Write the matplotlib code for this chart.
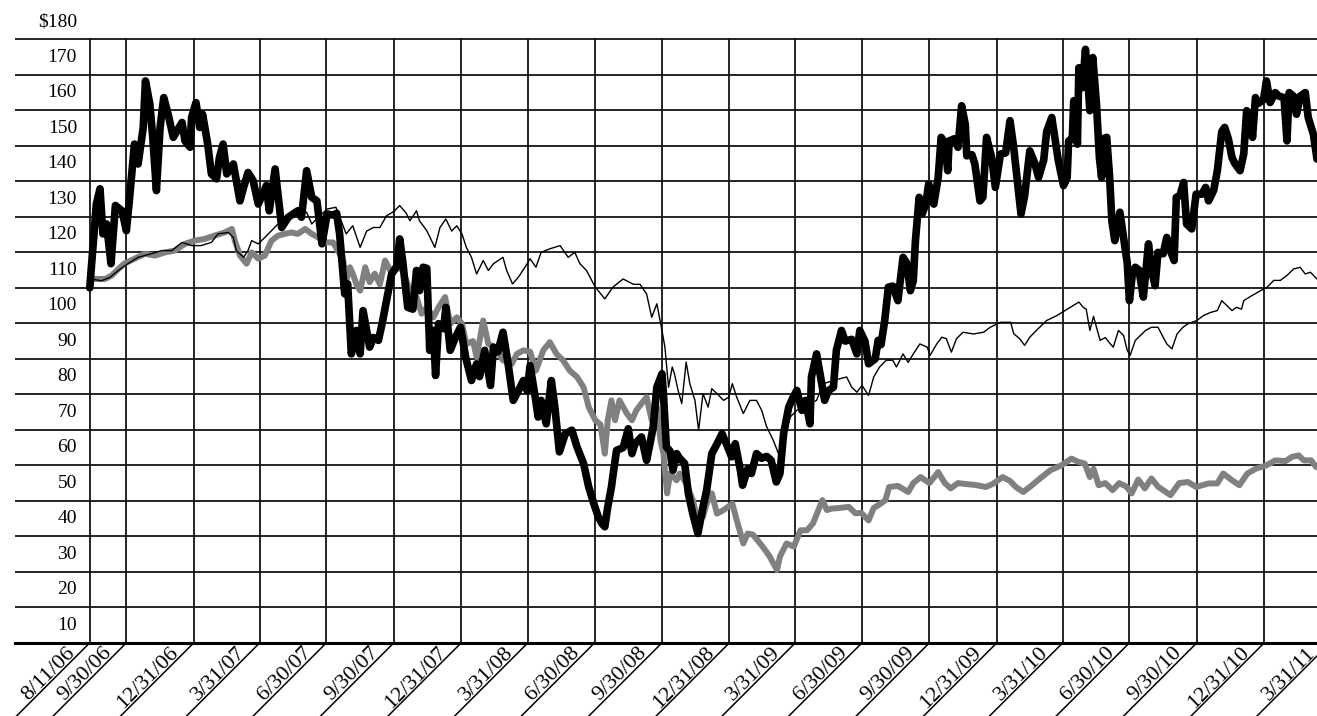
import numpy as np
import matplotlib
matplotlib.use("Agg")
import matplotlib.pyplot as plt
import matplotlib.transforms as mtransforms

plt.rcParams["font.family"] = ["Liberation Serif", "DejaVu Serif"]

START = np.datetime64("2006-08-11")
END = np.datetime64("2011-03-13")

# thick black line: days after 8/11/06, value ($100 start)
stock_day = [0, 9, 14, 18, 23, 29, 35, 44, 50, 54, 61, 66, 73, 76, 82, 86, 91, 96, 101, 107,
             114, 126, 130, 137, 139, 145, 150, 154, 161, 166, 173, 177, 182, 187, 196, 205, 210, 216, 223, 230,
             241, 245, 253, 262, 271, 284, 289, 296, 303, 310, 317, 324, 332, 337, 341, 348, 352, 357, 364, 369,
             373, 382, 387, 394, 399, 405, 412, 419, 423, 427, 434, 441, 446, 450, 455, 460, 464, 469, 472, 476,
             483, 486, 492, 499, 506, 513, 521, 528, 532, 539, 547, 551, 557, 564, 571, 578, 585, 592, 597, 601,
             608, 612, 616, 623, 630, 635, 641, 649, 658, 665, 674, 681, 688, 694, 699, 703, 707, 712, 714, 719,
             728, 735, 740, 744, 753, 760, 765, 769, 774, 781, 783, 787, 792, 796, 801, 805, 812, 817, 823, 830,
             837, 842, 849, 856, 863, 869, 876, 881, 888, 891, 898, 903, 910, 917, 924, 930, 937, 942, 947, 954,
             960, 965, 972, 977, 983, 985, 992, 1003, 1008, 1015, 1019, 1026, 1031, 1040, 1047, 1051, 1058, 1063, 1072, 1076,
             1080, 1085, 1090, 1096, 1103, 1110, 1115, 1120, 1124, 1127, 1132, 1136, 1141, 1145, 1152, 1158, 1162, 1167, 1171, 1173,
             1180, 1185, 1190, 1195, 1197, 1204, 1208, 1215, 1219, 1224, 1231, 1236, 1243, 1250, 1256, 1261, 1265, 1271, 1276, 1283,
             1290, 1295, 1302, 1306, 1313, 1322, 1329, 1334, 1336, 1341, 1343, 1348, 1350, 1355, 1359, 1363, 1365, 1369, 1374, 1378,
             1381, 1383, 1388, 1392, 1395, 1399, 1406, 1413, 1416, 1419, 1423, 1427, 1432, 1438, 1445, 1449, 1454, 1458, 1465, 1470,
             1474, 1480, 1483, 1488, 1493, 1497, 1504, 1510, 1518, 1523, 1527, 1534, 1539, 1545, 1549, 1554, 1559, 1563, 1570, 1575,
             1579, 1584, 1587, 1591, 1595, 1602, 1606, 1611, 1618, 1623, 1630, 1634, 1637, 1643, 1647, 1652, 1659, 1663, 1670, 1675]
stock_val = [100, 123.6, 127.9, 115.2, 118, 106.8, 123.2, 121.7, 116.1, 124.5, 140.5, 134.9, 145.2, 158.3, 151.8, 142.4, 127.4, 145.2, 153.6, 148.9,
             142.4, 146.6, 141.4, 139.6, 148, 152.2, 145.2, 148.9, 140.5, 132.1, 130.7, 136.7, 140.5, 132.1, 134.9, 124.5, 128.3, 132.5, 130.2, 123.6,
             128.8, 121.7, 133.5, 117, 119.9, 121.7, 119.9, 133, 125.5, 124.5, 112.4, 120.8, 120.5, 121, 115.2, 98.3, 101.1, 81.4, 88, 81.4,
             93.6, 83.3, 86, 85.2, 89.9, 96.4, 103.9, 106, 113.8, 107.7, 94.5, 94, 104.9, 99.2, 105.8, 105.5, 82.4, 88, 75.3, 89.9,
             88.5, 94.5, 82.4, 86, 88.9, 80.5, 73.9, 78.6, 75, 82.4, 72.5, 83.3, 82, 87.5, 78.6, 68.3, 71, 73.9, 71, 78.1,
             69.2, 63.6, 68.3, 61.7, 73.9, 66, 53.8, 58.9, 59.9, 55.2, 50.5, 43.9, 39.2, 35.5, 33.6, 32.7, 38.3, 43.9, 47, 54.2,
             55, 60.3, 53.3, 56, 58, 51.4, 56.5, 60.8, 72, 75.8, 70, 55.2, 54, 48.6, 53.3, 52, 50.5, 42.1, 36.4, 30.8,
             38.3, 43, 53.3, 56, 58.9, 56, 52.4, 56.1, 48.6, 44.4, 49, 47.7, 53.3, 52, 52.5, 51.4, 45.3, 47.7, 58.9, 66.4,
             69.2, 71.1, 65.5, 68.3, 61.7, 74.9, 81.4, 68.3, 71, 72, 82.4, 88, 85, 85.5, 81.4, 88, 85, 78.6, 80, 85.2,
             84, 90.8, 100.2, 100.5, 96.4, 108.6, 107, 99.2, 102, 113.5, 125.5, 120.8, 123.5, 129.3, 123.6, 131.1, 142.4, 141, 133, 141.4,
             142, 139.6, 151.3, 146, 137.2, 137.5, 134.9, 124.5, 125.5, 142.4, 136.7, 128.3, 137.7, 138, 147.1, 139.6, 132.1, 120.8, 126, 138.6,
             135, 131.1, 136, 144, 148, 135.8, 128.8, 131, 141.4, 142, 152.7, 140.5, 162, 156.4, 167.2, 156, 149.9, 164.9, 151.8, 136.7,
             131.1, 142, 142.4, 131.1, 118.9, 113.3, 121.3, 111.4, 107, 96.4, 104, 105.8, 105, 97.4, 112.4, 105, 100.6, 110, 109.6, 114.2,
             111, 107.7, 125.5, 126, 129.7, 118, 116.6, 126.4, 126.4, 128.3, 124.5, 127.5, 133, 144, 145.2, 142, 136.7, 135, 133, 137.7,
             149.9, 148, 142.4, 153.6, 152, 153, 158.3, 152.2, 155, 154, 153.6, 141.4, 155, 154, 148.9, 154, 155, 148, 143.3, 136.3]

# thin black line
market_day = [0, 2, 16, 28, 39, 52, 66, 84, 98, 112, 126, 139, 152, 166, 175, 189, 196, 200, 210, 216,
              221, 230, 239, 248, 257, 266, 275, 284, 296, 303, 312, 324, 336, 350, 359, 369, 378, 387, 396, 405,
              415, 423, 432, 437, 446, 450, 460, 471, 478, 486, 494, 501, 508, 514, 521, 528, 537, 544, 551, 564,
              569, 577, 585, 594, 601, 609, 616, 628, 642, 653, 662, 669, 678, 690, 703, 714, 728, 742, 751, 760,
              767, 774, 781, 785, 790, 795, 798, 803, 808, 814, 819, 826, 831, 837, 844, 849, 856, 865, 872, 877,
              883, 892, 901, 910, 917, 924, 933, 940, 947, 956, 965, 974, 983, 992, 1001, 1015, 1033, 1040, 1047, 1054,
              1063, 1070, 1078, 1087, 1096, 1101, 1110, 1117, 1124, 1133, 1143, 1147, 1156, 1163, 1169, 1176, 1183, 1192, 1206, 1220,
              1229, 1243, 1257, 1261, 1269, 1276, 1283, 1292, 1306, 1320, 1338, 1350, 1356, 1360, 1365, 1370, 1374, 1379, 1386, 1393,
              1397, 1404, 1411, 1416, 1420, 1427, 1434, 1441, 1449, 1458, 1465, 1470, 1477, 1484, 1492, 1499, 1511, 1520, 1530, 1539,
              1545, 1552, 1559, 1565, 1572, 1575, 1586, 1598, 1607, 1616, 1625, 1634, 1643, 1652, 1659, 1666, 1675]
market_val = [100, 102.5, 102, 103, 104.9, 106.8, 108.6, 109.6, 110.5, 110.5, 112.8, 111.9, 111.9, 112.8, 115.2, 115.6, 114.2, 110.5, 108.6, 110.5,
              113.3, 112.4, 114.2, 116.1, 118, 119, 119.9, 120.8, 121.3, 118, 119.9, 122.2, 122.7, 115.2, 117.5, 111.4, 116, 117, 117, 120.3,
              121.5, 123.2, 121, 118.9, 121.7, 118.9, 116.1, 111.4, 117, 119.4, 116, 117.5, 115.2, 111.4, 108.6, 103.9, 107.7, 104.9, 106.8, 108.6,
              104.9, 101.1, 103, 105.8, 108.2, 105.8, 110, 111, 111.9, 108.6, 110, 106.8, 104.9, 100.2, 96.9, 100.2, 102.5, 101, 101, 98.3,
              91.7, 95.5, 88, 83.3, 72, 77.7, 75.8, 71.1, 67.4, 79.1, 73, 68.3, 59.9, 70.2, 66.4, 71.6, 70.2, 68.3, 69.2, 73,
              69.2, 64.6, 68.3, 68.3, 65.5, 60.8, 57, 53.3, 57, 63.6, 65.5, 66.4, 67.4, 68.3, 73, 73.9, 74.9, 72, 70.6, 72.5,
              69.7, 74.9, 77.7, 79.6, 79.6, 77.7, 81.4, 79, 81.4, 84.2, 83.3, 81, 84.2, 86.1, 85.7, 81.9, 85.7, 87.5, 87, 87.5,
              88.9, 90.3, 90.3, 87.1, 85.7, 83.8, 86.1, 88, 90.8, 92.2, 94.5, 96, 94.5, 94, 88, 92, 88.9, 85.2, 86, 84.2,
              83.3, 88, 86.6, 82.4, 81, 85.2, 86.6, 88, 88.9, 88.9, 86.1, 84.2, 82.8, 87, 88.9, 89.9, 90.8, 92.2, 93.1, 93.6,
              96.4, 95, 93.6, 94.5, 94, 96.4, 97.8, 99.2, 100.2, 102.1, 102.1, 103.5, 105.3, 105.8, 103.9, 104.4, 102.5]

# thick gray line
peer_day = [0, 2, 21, 30, 39, 47, 61, 75, 89, 103, 116, 130, 143, 157, 170, 184, 194, 198, 205, 214,
            221, 230, 239, 248, 257, 266, 275, 284, 294, 303, 312, 321, 332, 336, 346, 350, 355, 359, 364, 369,
            376, 382, 389, 396, 403, 410, 419, 427, 437, 446, 453, 460, 469, 476, 485, 492, 501, 508, 514, 523,
            528, 537, 544, 553, 564, 576, 583, 592, 601, 609, 619, 628, 637, 646, 655, 665, 674, 681, 690, 697,
            703, 707, 712, 717, 723, 733, 740, 746, 753, 760, 767, 774, 779, 783, 788, 792, 801, 805, 814, 823,
            830, 837, 842, 849, 856, 865, 877, 883, 892, 898, 905, 915, 922, 928, 938, 942, 951, 961, 970, 979,
            987, 1000, 1006, 1012, 1024, 1036, 1045, 1053, 1063, 1070, 1078, 1086, 1091, 1103, 1117, 1124, 1134, 1146, 1158, 1167,
            1175, 1185, 1197, 1208, 1223, 1232, 1246, 1256, 1264, 1274, 1283, 1297, 1311, 1326, 1340, 1349, 1358, 1365, 1370, 1377,
            1386, 1396, 1405, 1415, 1422, 1431, 1440, 1449, 1458, 1475, 1487, 1499, 1510, 1527, 1539, 1547, 1559, 1569, 1580, 1592,
            1606, 1618, 1632, 1641, 1650, 1657, 1667, 1674]
peer_val = [100, 102.5, 102.5, 103.5, 105.3, 106.8, 108.2, 109.6, 109.1, 110, 110.5, 112.4, 113.3, 113.8, 114.7, 115.6, 116.6, 113.3, 109.1, 106.8,
            110, 108.2, 109.1, 113.3, 114.7, 115.2, 115.6, 115.2, 116.6, 115.2, 114.2, 112.8, 112.8, 111.4, 107.7, 102, 105.8, 104, 101, 99.2,
            105.8, 101.6, 104, 101, 107.7, 104.9, 106, 104.9, 99.2, 97.4, 92.7, 94.5, 91.7, 94.5, 97.4, 89.9, 91.7, 89.9, 84.2, 85,
            80.5, 90.8, 84.2, 83.3, 79.6, 78.6, 81.4, 82.4, 82, 76.7, 82.4, 84.7, 81.4, 79.6, 76.7, 74.9, 72, 66.4, 62.7, 61.5,
            53.3, 62.7, 68.3, 62.7, 68.3, 64.6, 62.7, 65.5, 67.4, 69.2, 62.7, 66.4, 57, 53.3, 42.1, 47.7, 45.8, 47.7, 45, 40.2,
            34.6, 35.5, 39.2, 42.1, 36.4, 37.4, 39.2, 34.6, 28, 30.8, 30.5, 28, 26.1, 24.3, 20.5, 24.3, 28, 27.1, 31.7, 31.7,
            33.6, 40.2, 37.4, 37.8, 38, 38.3, 36.5, 36.6, 34.5, 38, 39, 40.2, 43.9, 44.2, 42.5, 45, 46.7, 45, 48.1, 45,
            43.5, 45, 44.7, 44.5, 43.9, 44.7, 46.7, 45.6, 43.9, 42.5, 43.9, 46.3, 48.6, 50, 51.9, 51, 50.5, 46.7, 49, 44.4,
            45, 43, 45, 44, 42.1, 46, 43.5, 46.3, 44, 41.6, 45, 45.3, 43.9, 44.9, 44.9, 47.7, 45.8, 44.4, 47.7, 49.1,
            50, 51.4, 51.2, 52.4, 52.8, 51.4, 51.4, 49.5]

tick_dates = ["2006-08-11", "2006-09-30", "2006-12-31", "2007-03-31", "2007-06-30", "2007-09-30",
              "2007-12-31", "2008-03-31", "2008-06-30", "2008-09-30", "2008-12-31", "2009-03-31",
              "2009-06-30", "2009-09-30", "2009-12-31", "2010-03-31", "2010-06-30", "2010-09-30",
              "2010-12-31", "2011-03-31"]
tick_labels = ["8/11/06", "9/30/06", "12/31/06", "3/31/07", "6/30/07", "9/30/07",
               "12/31/07", "3/31/08", "6/30/08", "9/30/08", "12/31/08", "3/31/09",
               "6/30/09", "9/30/09", "12/31/09", "3/31/10", "6/30/10", "9/30/10",
               "12/31/10", "3/31/11"]
y_levels = list(range(10, 190, 10))


def to_dates(days):
    return START + np.array(days).astype("timedelta64[D]")


fig = plt.figure(figsize=(13.17, 7.16), dpi=100)
ax = fig.add_axes([0.0114, 0.1022, 0.9886, 0.8443])

ax.plot(to_dates(peer_day), peer_val, color="#808080", lw=4.3, zorder=3, solid_capstyle="round")
ax.plot(to_dates(stock_day), stock_val, color="black", lw=5.5, zorder=4, solid_capstyle="round")
ax.plot(to_dates(market_day), market_val, color="black", lw=1.0, zorder=5)

tick_dt = np.array(tick_dates, dtype="datetime64[D]")
ax.set_xlim(START - np.timedelta64(102, "D"), END)
ax.set_ylim(0, 170.3)
ax.set_xticks(tick_dt[tick_dt <= END])
ax.set_yticks(y_levels[:-1])
ax.grid(True, color="#141414", lw=1.3, zorder=1)
ax.set_axisbelow(True)
ax.tick_params(length=0, labelleft=False, labelbottom=False)
for s in ["top", "left", "right"]:
    ax.spines[s].set_visible(False)
ax.spines["bottom"].set_linewidth(2.2)

# y labels sit in the band under each line
trans = mtransforms.blended_transform_factory(ax.transAxes, ax.transData)
for v in y_levels:
    lbl = "$%d" % v if v == 180 else str(v)
    ax.text(0.0476, v - 5, lbl, transform=trans, ha="right", va="center",
            fontsize=14, clip_on=False)

# diagonal leader lines with slanted date labels
for d, lbl in zip(tick_dt, tick_labels):
    ax.annotate("", xy=(d, 0), xytext=(-60, -60), textcoords="offset points",
                arrowprops=dict(arrowstyle="-", lw=1.1, color="black", shrinkA=0, shrinkB=0),
                annotation_clip=False)
    ax.annotate(lbl, xy=(d, 0), xytext=(-10.4, -7.6), textcoords="offset points",
                rotation=45, rotation_mode="anchor", ha="right", va="baseline",
                fontsize=16, annotation_clip=False)

fig.savefig("out.png", dpi=100)
